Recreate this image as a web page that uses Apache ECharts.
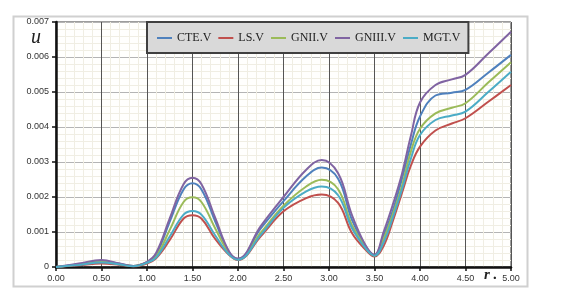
<!DOCTYPE html>
<html>
<head>
<meta charset="utf-8">
<script src="https://cdn.jsdelivr.net/npm/echarts@6/dist/echarts.min.js"></script>
<style>
html,body{margin:0;padding:0;background:#fff;}
#c{width:568px;height:304px;}
</style>
</head>
<body>
<div id="c"></div>
<script>
// r values (x positions of the data points)
var rValues = [0, 0.25, 0.5, 0.7, 0.85, 1.0, 1.1, 1.25, 1.4, 1.5, 1.6, 1.75, 1.9, 2.0, 2.25, 2.5, 2.75, 2.92, 3.1, 3.25, 3.4, 3.5, 3.6, 3.7, 3.8, 3.9, 4.0, 4.17, 4.35, 4.5, 4.75, 5.0];

var seriesNames = ['CTE.V', 'LS.V', 'GNII.V', 'GNIII.V', 'MGT.V'];
var seriesColors = ['#4f81bd', '#c0504d', '#9bbb59', '#8064a2', '#4bacc6'];

var cteV   = [0, 0.00008, 0.00017, 0.00009, 0.00003, 0.00014, 0.00035, 0.0013, 0.00221, 0.00239, 0.00221, 0.0013, 0.00043, 0.00023, 0.0011, 0.00188, 0.00259, 0.00284, 0.00252, 0.00136, 0.0006, 0.00034, 0.0009, 0.0016, 0.0025, 0.0035, 0.0043, 0.0049, 0.00498, 0.00506, 0.00555, 0.00606];
var lsV    = [0, 0.00005, 0.0001, 0.00006, 0.00002, 0.0001, 0.00025, 0.00077, 0.00138, 0.00148, 0.00138, 0.0008, 0.00035, 0.0002, 0.00088, 0.00159, 0.00197, 0.00207, 0.00183, 0.00098, 0.0005, 0.0003, 0.0006, 0.0013, 0.0021, 0.0029, 0.00344, 0.0039, 0.0041, 0.00425, 0.00472, 0.0052];
var gniiV  = [0, 0.00007, 0.00015, 0.00008, 0.00003, 0.00013, 0.0003, 0.00106, 0.00185, 0.00199, 0.00185, 0.0011, 0.0004, 0.00022, 0.00098, 0.00175, 0.0023, 0.00249, 0.00222, 0.00121, 0.00057, 0.00033, 0.0008, 0.0015, 0.0023, 0.0033, 0.00395, 0.00439, 0.00455, 0.00468, 0.00527, 0.00585];
var gniiiV = [0, 0.0001, 0.0002, 0.0001, 0.00003, 0.00015, 0.0004, 0.00139, 0.00236, 0.00255, 0.00236, 0.0014, 0.00045, 0.00024, 0.00117, 0.002, 0.00278, 0.00306, 0.00268, 0.0015, 0.00063, 0.00035, 0.001, 0.00177, 0.00264, 0.00375, 0.0047, 0.0052, 0.00536, 0.00549, 0.0061, 0.00672];
var mgtV   = [0, 0.00006, 0.00013, 0.00007, 0.00002, 0.00012, 0.00027, 0.00087, 0.00149, 0.0016, 0.00149, 0.0009, 0.00036, 0.00021, 0.00092, 0.00169, 0.00216, 0.0023, 0.00205, 0.00112, 0.00054, 0.00032, 0.0007, 0.0014, 0.0022, 0.0031, 0.00377, 0.0042, 0.00433, 0.00444, 0.005, 0.00558];

var allValues = [cteV, lsV, gniiV, gniiiV, mgtV];

var xTickLabels = ['0.00','0.50','1.00','1.50','2.00','2.50','3.00','3.50','4.00','4.50','5.00'];
var yTickLabels = ['0','0.001','0.002','0.003','0.004','0.005','0.006','0.007'];

var chart = echarts.init(document.getElementById('c'), null, {renderer:'canvas'});

var series = seriesNames.map(function(name, i){
  return {
    name: name,
    type: 'line',
    smooth: 0.4,
    showSymbol: false,
    symbol: 'none',
    lineStyle: {width: 2, color: seriesColors[i]},
    itemStyle: {color: seriesColors[i]},
    data: rValues.map(function(r, k){ return [r, allValues[i][k]]; }),
    z: 3
  };
});

var option = {
  animation: false,
  backgroundColor: '#ffffff',
  grid: {left: 56, right: 57, top: 22, bottom: 37, show: true, borderColor: '#3a3a3a', borderWidth: 1, backgroundColor: '#fffffd'},
  legend: {
    left: 147, top: 22,
    data: seriesNames,
    icon: 'rect', itemWidth: 15, itemHeight: 2, itemGap: 7,
    backgroundColor: '#d9d9d9', borderColor: '#404040', borderWidth: 2,
    padding: [10, 8, 9, 10],
    textStyle: {fontFamily: 'Liberation Serif', fontSize: 12, color: '#222'}
  },
  xAxis: {
    type: 'value', min: 0, max: 5, interval: 0.5,
    axisLine: {show: true, onZero: false, lineStyle: {color: '#111', width: 2.5}},
    axisTick: {show: true, length: 4, lineStyle: {color: '#111', width: 1.5}},
    axisLabel: {fontFamily: 'Liberation Sans', fontSize: 9, color: '#333', margin: 7,
      formatter: function(v){ return xTickLabels[Math.round(v/0.5)]; }},
    splitLine: {show: true, lineStyle: {color: '#555', width: 1}},
    minorTick: {show: false, splitNumber: 5},
    minorSplitLine: {show: true, lineStyle: {color: '#f0eee3', width: 1}}
  },
  yAxis: {
    type: 'value', min: 0, max: 0.007, interval: 0.001,
    axisLine: {show: true, lineStyle: {color: '#111', width: 2.5}},
    axisTick: {show: true, length: 4, lineStyle: {color: '#111', width: 1.5}},
    axisLabel: {fontFamily: 'Liberation Sans', fontSize: 9, color: '#333', margin: 7,
      formatter: function(v){ return yTickLabels[Math.round(v/0.001)]; }},
    splitLine: {show: true, lineStyle: {color: '#b4b4b4', width: 1}},
    minorTick: {show: false, splitNumber: 5},
    minorSplitLine: {show: true, lineStyle: {color: '#f0eee3', width: 1}}
  },
  graphic: [
    {type: 'rect', left: 11, top: 14, shape: {width: 514, height: 270}, style: {fill: 'none', stroke: '#d0d0d0', lineWidth: 2}, z: -1, silent: true},
    {type: 'text', left: 31, top: 28, style: {text: 'u', fontFamily: 'Liberation Serif', fontStyle: 'italic', fontSize: 20, fill: '#222'}},
    {type: 'text', left: 484, top: 268, style: {text: 'r .', fontFamily: 'Liberation Serif', fontStyle: 'italic', fontWeight: 'bold', fontSize: 15, fill: '#222'}}
  ],
  series: series
};
chart.setOption(option);
</script>
</body>
</html>
